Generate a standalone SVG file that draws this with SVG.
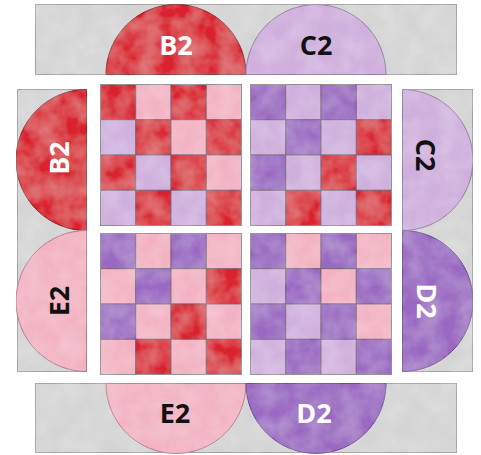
<svg xmlns="http://www.w3.org/2000/svg" width="481" height="455" viewBox="0 0 481 455">
<defs>
<filter id="mottle" x="0" y="0" width="100%" height="100%">
<feTurbulence type="fractalNoise" baseFrequency="0.05" numOctaves="3" seed="4" result="n"/>
<feColorMatrix in="n" type="matrix" values="0 0 0 0 1  0 0 0 0 1  0 0 0 0 1  0 0 0 0.3 -0.08" result="w"/>
<feComposite in="w" in2="SourceGraphic" operator="in" result="wc"/>
<feMerge><feMergeNode in="SourceGraphic"/><feMergeNode in="wc"/></feMerge>
</filter>
<style>
.strip{fill:#d4d4d4;stroke:#a0a0a0;stroke-width:1}
.red{fill:#d9212f}
.pink{fill:#f3b2c3}
.lav{fill:#cfafdd}
.pur{fill:#9a68c2}
.semi{stroke-width:1}
.semi.red{stroke:#8c1a22}
.semi.pink{stroke:#b07a88}
.semi.lav{stroke:#8f7aa0}
.semi.pur{stroke:#6a4690}
.cell{stroke:#6e5a70;stroke-width:0.8}
.frame{fill:none;stroke:#8a8a8a;stroke-width:1}
.lbl{font-family:"Open Sans","Liberation Sans",sans-serif;font-weight:700;font-size:27px;text-anchor:middle;dominant-baseline:central}
.w{fill:#ffffff}
.k{fill:#111111}
</style>
</defs>
<rect width="481" height="455" fill="#ffffff"/>

<g id="top-border" filter="url(#mottle)">
<rect class="strip" x="35.5" y="4.5" width="421" height="70"/>
<path class="semi red" d="M106 74.5 A70 70 0 0 1 246 74.5 Z"/>
<path class="semi lav" d="M246 74.5 A70 70 0 0 1 386 74.5 Z"/>
</g>
<text class="lbl w" x="176" y="44">B2</text>
<text class="lbl k" x="316" y="44">C2</text>

<g id="bottom-border" filter="url(#mottle)">
<rect class="strip" x="35.5" y="383.5" width="421" height="69"/>
<path class="semi pink" d="M106 383.5 A70 70 0 0 0 246 383.5 Z"/>
<path class="semi pur" d="M246 383.5 A70 70 0 0 0 386 383.5 Z"/>
</g>
<text class="lbl k" x="175" y="412">E2</text>
<text class="lbl w" x="314" y="412">D2</text>

<g id="left-border" filter="url(#mottle)">
<rect class="strip" x="17.5" y="89.5" width="69" height="282"/>
<path class="semi red" d="M86.5 89.5 A70.5 70.5 0 0 0 86.5 230.5 Z"/>
<path class="semi pink" d="M86.5 230.5 A70.5 70.5 0 0 0 86.5 371.5 Z"/>
</g>
<text class="lbl w" transform="translate(58 158) rotate(-90)">B2</text>
<text class="lbl k" transform="translate(58 301) rotate(-90)">E2</text>

<g id="right-border" filter="url(#mottle)">
<rect class="strip" x="402.5" y="89.5" width="70" height="282"/>
<path class="semi lav" d="M402.5 89.5 A70.5 70.5 0 0 1 402.5 230.5 Z"/>
<path class="semi pur" d="M402.5 230.5 A70.5 70.5 0 0 1 402.5 371.5 Z"/>
</g>
<text class="lbl k" transform="translate(426 155) rotate(90)">C2</text>
<text class="lbl w" transform="translate(427 301) rotate(90)">D2</text>

<g id="block-top-left" filter="url(#mottle)">
<rect class="cell red" x="100.5" y="84.5" width="35.25" height="35.25"/>
<rect class="cell pink" x="135.75" y="84.5" width="35.25" height="35.25"/>
<rect class="cell red" x="171" y="84.5" width="35.25" height="35.25"/>
<rect class="cell pink" x="206.25" y="84.5" width="35.25" height="35.25"/>
<rect class="cell lav" x="100.5" y="119.75" width="35.25" height="35.25"/>
<rect class="cell red" x="135.75" y="119.75" width="35.25" height="35.25"/>
<rect class="cell pink" x="171" y="119.75" width="35.25" height="35.25"/>
<rect class="cell red" x="206.25" y="119.75" width="35.25" height="35.25"/>
<rect class="cell red" x="100.5" y="155" width="35.25" height="35.25"/>
<rect class="cell lav" x="135.75" y="155" width="35.25" height="35.25"/>
<rect class="cell red" x="171" y="155" width="35.25" height="35.25"/>
<rect class="cell pink" x="206.25" y="155" width="35.25" height="35.25"/>
<rect class="cell lav" x="100.5" y="190.25" width="35.25" height="35.25"/>
<rect class="cell red" x="135.75" y="190.25" width="35.25" height="35.25"/>
<rect class="cell lav" x="171" y="190.25" width="35.25" height="35.25"/>
<rect class="cell red" x="206.25" y="190.25" width="35.25" height="35.25"/>
<rect class="frame" x="100.5" y="84.5" width="141" height="141"/>
</g>

<g id="block-top-right" filter="url(#mottle)">
<rect class="cell pur" x="250.5" y="84.5" width="35.25" height="35.25"/>
<rect class="cell lav" x="285.75" y="84.5" width="35.25" height="35.25"/>
<rect class="cell pur" x="321" y="84.5" width="35.25" height="35.25"/>
<rect class="cell lav" x="356.25" y="84.5" width="35.25" height="35.25"/>
<rect class="cell lav" x="250.5" y="119.75" width="35.25" height="35.25"/>
<rect class="cell pur" x="285.75" y="119.75" width="35.25" height="35.25"/>
<rect class="cell lav" x="321" y="119.75" width="35.25" height="35.25"/>
<rect class="cell red" x="356.25" y="119.75" width="35.25" height="35.25"/>
<rect class="cell pur" x="250.5" y="155" width="35.25" height="35.25"/>
<rect class="cell lav" x="285.75" y="155" width="35.25" height="35.25"/>
<rect class="cell red" x="321" y="155" width="35.25" height="35.25"/>
<rect class="cell lav" x="356.25" y="155" width="35.25" height="35.25"/>
<rect class="cell lav" x="250.5" y="190.25" width="35.25" height="35.25"/>
<rect class="cell red" x="285.75" y="190.25" width="35.25" height="35.25"/>
<rect class="cell lav" x="321" y="190.25" width="35.25" height="35.25"/>
<rect class="cell red" x="356.25" y="190.25" width="35.25" height="35.25"/>
<rect class="frame" x="250.5" y="84.5" width="141" height="141"/>
</g>

<g id="block-bottom-left" filter="url(#mottle)">
<rect class="cell pur" x="100.5" y="233.5" width="35.25" height="35.25"/>
<rect class="cell pink" x="135.75" y="233.5" width="35.25" height="35.25"/>
<rect class="cell pur" x="171" y="233.5" width="35.25" height="35.25"/>
<rect class="cell pink" x="206.25" y="233.5" width="35.25" height="35.25"/>
<rect class="cell pink" x="100.5" y="268.75" width="35.25" height="35.25"/>
<rect class="cell pur" x="135.75" y="268.75" width="35.25" height="35.25"/>
<rect class="cell pink" x="171" y="268.75" width="35.25" height="35.25"/>
<rect class="cell red" x="206.25" y="268.75" width="35.25" height="35.25"/>
<rect class="cell pur" x="100.5" y="304" width="35.25" height="35.25"/>
<rect class="cell pink" x="135.75" y="304" width="35.25" height="35.25"/>
<rect class="cell red" x="171" y="304" width="35.25" height="35.25"/>
<rect class="cell pink" x="206.25" y="304" width="35.25" height="35.25"/>
<rect class="cell pink" x="100.5" y="339.25" width="35.25" height="35.25"/>
<rect class="cell red" x="135.75" y="339.25" width="35.25" height="35.25"/>
<rect class="cell pink" x="171" y="339.25" width="35.25" height="35.25"/>
<rect class="cell red" x="206.25" y="339.25" width="35.25" height="35.25"/>
<rect class="frame" x="100.5" y="233.5" width="141" height="141"/>
</g>

<g id="block-bottom-right" filter="url(#mottle)">
<rect class="cell pur" x="250.5" y="233.5" width="35.25" height="35.25"/>
<rect class="cell pink" x="285.75" y="233.5" width="35.25" height="35.25"/>
<rect class="cell pur" x="321" y="233.5" width="35.25" height="35.25"/>
<rect class="cell pink" x="356.25" y="233.5" width="35.25" height="35.25"/>
<rect class="cell lav" x="250.5" y="268.75" width="35.25" height="35.25"/>
<rect class="cell pur" x="285.75" y="268.75" width="35.25" height="35.25"/>
<rect class="cell pink" x="321" y="268.75" width="35.25" height="35.25"/>
<rect class="cell pur" x="356.25" y="268.75" width="35.25" height="35.25"/>
<rect class="cell pur" x="250.5" y="304" width="35.25" height="35.25"/>
<rect class="cell lav" x="285.75" y="304" width="35.25" height="35.25"/>
<rect class="cell pur" x="321" y="304" width="35.25" height="35.25"/>
<rect class="cell pink" x="356.25" y="304" width="35.25" height="35.25"/>
<rect class="cell lav" x="250.5" y="339.25" width="35.25" height="35.25"/>
<rect class="cell pur" x="285.75" y="339.25" width="35.25" height="35.25"/>
<rect class="cell lav" x="321" y="339.25" width="35.25" height="35.25"/>
<rect class="cell pur" x="356.25" y="339.25" width="35.25" height="35.25"/>
<rect class="frame" x="250.5" y="233.5" width="141" height="141"/>
</g>

<g id="connectors"></g>
</svg>
